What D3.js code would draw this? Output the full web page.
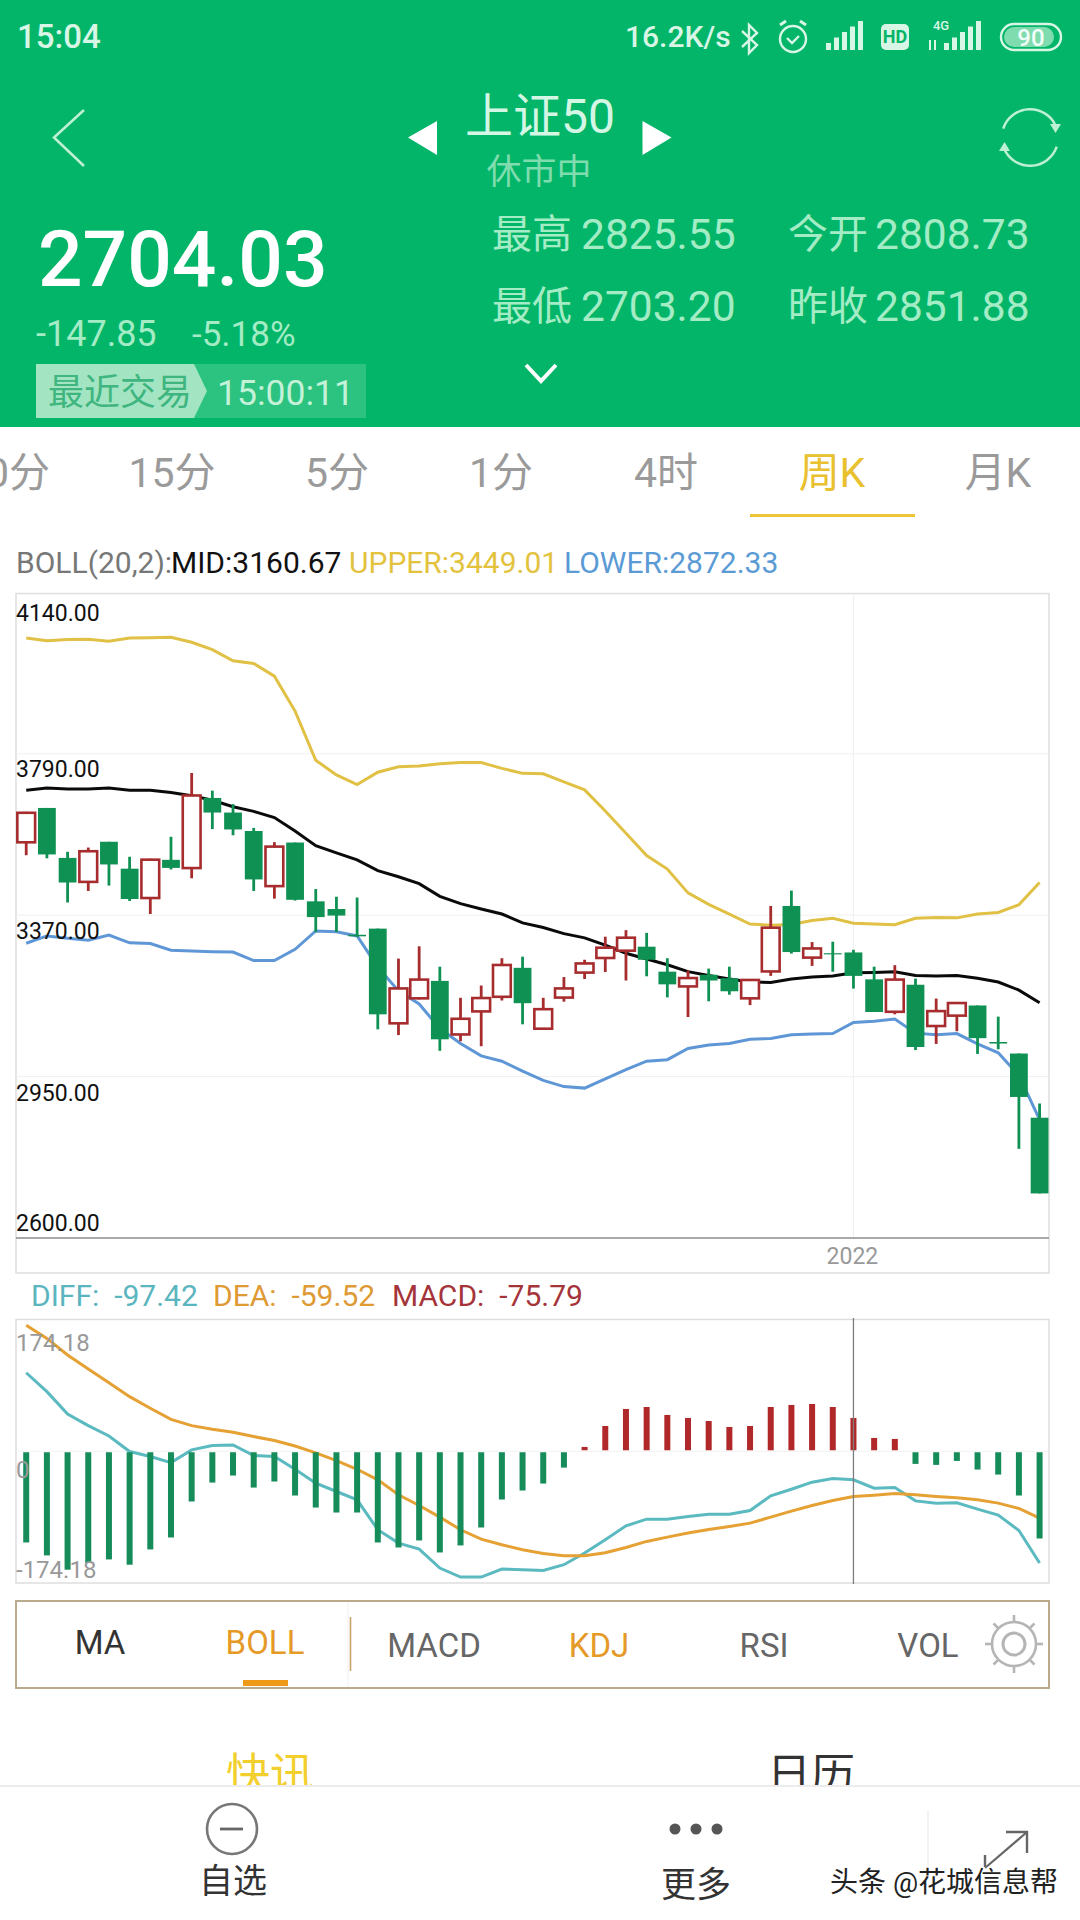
<!doctype html>
<html lang="zh">
  <head>
    <meta charset="utf-8">
    <title>上证50 周K</title>
    <style>
      html, body { margin: 0; background: #fff; }
      svg { display: block; }
      text { font-family: Roboto, "Noto Sans CJK SC", sans-serif; }
    </style>
  </head>
  <body>
    <script src="https://cdn.jsdelivr.net/npm/d3@7"></script>
    <script>

// weekly candles
var weeks = d3.range(50);
var yearTicks = [40];
var yearLabels = ["2022"];

var open = [3557,3649,3519,3454,3561,3491,3412,3514,3490,3675,3637,3589,3443,3559,3406,3386,3319,3335,3086,3151,
            3199,3057,3117,3155,3233,3072,3153,3218,3256,3275,3288,3223,3182,3215,3206,3151,3221,3394,3257,3271,
            3273,3203,3116,3189,3079,3106,3135,3040,3010,2843];
var high = [3639,3649,3535,3546,3561,3522,3517,3574,3740,3694,3659,3597,3560,3559,3438,3418,3416,3335,3257,3289,
            3236,3155,3187,3258,3262,3155,3209,3254,3314,3331,3324,3258,3226,3231,3236,3204,3394,3434,3300,3301,
            3280,3236,3240,3205,3153,3144,3135,3106,3010,2880];
var low  = [3526,3518,3403,3433,3447,3407,3373,3489,3466,3594,3578,3433,3413,3408,3326,3326,3314,3073,3058,3151,
            3017,3042,3029,3148,3086,3072,3145,3204,3222,3200,3211,3156,3105,3146,3163,3136,3212,3270,3238,3223,
            3179,3118,3112,3019,3035,3068,3009,3021,2762,2646];
var close = [3639,3528,3455,3539,3502,3412,3517,3493,3684,3637,3593,3463,3551,3410,3365,3369,3315,3112,3182,3205,
             3047,3103,3157,3243,3141,3128,3182,3247,3288,3314,3254,3190,3209,3200,3172,3204,3340,3274,3286,3268,
             3212,3118,3205,3027,3123,3144,3050,3036,2897,2646];

var bollUpper = [4091,4084,4087,4088,4083,4091,4092,4093,4080,4061,4032,4025,3992,3901,3773,3735,3710,3742,3756,3758,
                 3764,3767,3767,3752,3739,3738,3717,3696,3641,3583,3525,3490,3428,3398,3373,3347,3344,3346,3356,3362,
                 3349,3347,3345,3362,3364,3363,3373,3377,3397,3455];
var bollMid = [3695,3701,3698,3698,3701,3695,3695,3689,3681,3669,3652,3640,3624,3589,3551,3532,3514,3486,3470,3452,
               3419,3400,3386,3373,3350,3338,3322,3311,3292,3271,3256,3241,3223,3213,3204,3196,3195,3204,3209,3212,
               3220,3221,3223,3213,3212,3213,3206,3196,3175,3142];
var bollLower = [3297,3316,3310,3305,3318,3298,3296,3279,3277,3275,3274,3252,3252,3281,3329,3327,3316,3235,3173,3139,
                 3075,3036,3004,2990,2964,2940,2924,2920,2944,2968,2990,2994,3023,3032,3036,3047,3049,3059,3061,3062,
                 3091,3094,3100,3063,3059,3062,3035,3012,2953,2838];

var macdBars = [-120.6,-137.7,-156.6,-147.8,-143,-150,-129.8,-114,-66.4,-41.4,-32.1,-48,-40,-58.5,-74.4,-81,-81,-120.6,-127.2,-117.9,
                -133.8,-124.5,-100.8,-63.8,-51.9,-42.7,-21.6,5.7,33.4,55.9,58.5,48,44,40,32.1,33.4,58.5,61.2,62.5,58.5,
                44,17.6,16.3,-16.7,-18,-12.8,-24.2,-30.8,-58.5,-115.3];
var dea = [166.5,149.2,127.2,108.7,90.6,72.2,56.8,42.2,33.9,29,25.1,19.4,14.1,7,-2.2,-12.3,-23.8,-37.8,-57.6,-71.7,
           -87.1,-103.8,-116.2,-123.6,-130.2,-135.1,-138.2,-138.2,-134.2,-127.2,-119.2,-113.5,-108.2,-103.4,-99.4,-95,-87.1,-79.2,-71.7,-65.1,
           -59.8,-58.1,-55.9,-57.6,-59.8,-61.6,-64.2,-68.6,-75.7,-88.4];
var diff = [103.8,78.8,49.3,33.9,20.2,-0.4,-7,-15,1.8,7.5,8.4,-5.7,-7,-23.8,-42.2,-53.2,-64.2,-103.8,-121.4,-129.4,
            -154.4,-166.3,-166.3,-155.8,-156.6,-157.5,-150,-134.6,-117,-98.6,-89.8,-89.8,-86.2,-83.2,-83.2,-78.3,-59,-50.2,-40.9,-36.1,
            -37.8,-48.8,-48,-65.6,-68.6,-68.2,-76.6,-84.5,-104.7,-147.8];

var priceTicks = [4140, 3790, 3370, 2950, 2600];
var priceGrid = [3790, 3370, 2950];
var macdTicks = [174.18, 0, -174.18];
var crossWeek = 40;

var timeTabs = ["15分", "5分", "1分", "4时", "周K", "月K"];
var indicatorTabs = ["MA", "BOLL", "MACD", "KDJ", "RSI", "VOL"];

var RED = "#a62c2e", GREEN = "#0f9153", HEADER = "#03b568", PALE = "#a3ecc5";

var svg = d3.select("body").append("svg")
    .attr("width", 1080)
    .attr("height", 1920);

function label(parent, s, x, y, size, color, anchor, weight) {
  return parent.append("text")
      .attr("x", x).attr("y", y)
      .attr("dy", "0.36em")
      .attr("font-size", size)
      .attr("fill", color)
      .attr("text-anchor", anchor || "start")
      .attr("font-weight", weight || 400)
      .text(s);
}

function poly(parent, pts, stroke, width, fill) {
  return parent.append("path")
      .attr("d", d3.line()(pts))
      .attr("fill", fill || "none")
      .attr("stroke", stroke)
      .attr("stroke-width", width);
}

// ---------- header ----------
var head = svg.append("g");
head.append("rect").attr("width", 1080).attr("height", 427).attr("fill", HEADER);

label(head, "15:04", 17, 36, 33, "#d8f6e6", "start", 500);
label(head, "16.2K/s", 625, 36, 30, "#d8f6e6", "start", 500);

// bluetooth
poly(head, [[742,31],[757,45],[749,53],[749,25],[757,33],[742,47]], "#d8f6e6", 2.4);
// alarm
head.append("circle").attr("cx", 793).attr("cy", 39).attr("r", 13).attr("fill", "none").attr("stroke", "#d8f6e6").attr("stroke-width", 2.4);
poly(head, [[787,38],[792,43],[799,36]], "#d8f6e6", 2.4);
poly(head, [[780,25],[786,21]], "#d8f6e6", 3);
poly(head, [[806,25],[800,21]], "#d8f6e6", 3);

// signal bars, two groups
[826, 944].forEach(function(x0) {
  d3.range(5).forEach(function(i) {
    var h = 7 + i * 5.5;
    head.append("rect")
        .attr("x", x0 + i * 8).attr("y", 50 - h)
        .attr("width", 5).attr("height", h)
        .attr("fill", "#d8f6e6");
  });
});

head.append("rect").attr("x", 881).attr("y", 24).attr("width", 28).attr("height", 26).attr("rx", 5).attr("fill", "#d8f6e6");
label(head, "HD", 895, 37, 18, HEADER, "middle", 700);
label(head, "4G", 941, 25, 13, "#d8f6e6", "middle", 500);
poly(head, [[930,40],[930,50]], "#d8f6e6", 2);
poly(head, [[935,40],[935,50]], "#d8f6e6", 2);

head.append("rect").attr("x", 1001).attr("y", 24).attr("width", 60).attr("height", 26).attr("rx", 13)
    .attr("fill", "none").attr("stroke", "#d8f6e6").attr("stroke-width", 2.4);
head.append("rect").attr("x", 1004).attr("y", 27).attr("width", 50).attr("height", 20).attr("rx", 10).attr("fill", "#7fdcae");
label(head, "90", 1031, 37, 24, "#f2fff8", "middle", 500);

poly(head, [[84,110],[54,137.5],[84,166]], "#bdf0d4", 2.6);
poly(head, [[437,121],[408,137.5],[437,155]], "none", 0, "#fff");
poly(head, [[642.5,121],[671.5,137.5],[642.5,155]], "none", 0, "#fff");

label(head, "上证50", 540, 116, 48, "#d4f6e4", "middle");
label(head, "休市中", 539, 171, 35, "#7fdcae", "middle");

// refresh ring
var ring = d3.arc().innerRadius(27).outerRadius(29.5);
head.append("path").attr("transform", "translate(1030,137.5)").attr("fill", "#bdf0d4")
    .attr("d", ring({startAngle: -1.25, endAngle: 1.15}));
head.append("path").attr("transform", "translate(1030,137.5)").attr("fill", "#bdf0d4")
    .attr("d", ring({startAngle: 1.9, endAngle: 4.3}));
poly(head, [[1050,124],[1061,124],[1055.5,133]], "none", 0, "#bdf0d4");
poly(head, [[999,151],[1010,151],[1004.5,142]], "none", 0, "#bdf0d4");

label(head, "2704.03", 38, 258, 78.5, "#fff", "start", 500);
label(head, "-147.85", 36, 333, 36, PALE);
label(head, "-5.18%", 192, 333, 35, PALE);

head.append("rect").attr("x", 36).attr("y", 364).attr("width", 330).attr("height", 54).attr("fill", "#2cc280");
poly(head, [[36,364],[194,364],[207,391],[194,418],[36,418]], "none", 0, "#a3e5c3");
label(head, "最近交易", 48, 392, 36, "#3fb57f");
label(head, "15:00:11", 217, 392, 35.5, "#c4f2d8");

label(head, "最高", 492, 234, 40, PALE);
label(head, "2825.55", 581, 234, 42.5, PALE);
label(head, "今开", 788, 234, 40, PALE);
label(head, "2808.73", 875, 234, 42.5, PALE);
label(head, "最低", 492, 306, 40, PALE);
label(head, "2703.20", 581, 306, 42.5, PALE);
label(head, "昨收", 788, 306, 40, PALE);
label(head, "2851.88", 875, 306, 42.5, PALE);
poly(head, [[526,365],[541,381],[556,365]], "#fff", 4);

// ---------- period tabs ----------
var tabCenters = [172, 337, 501, 666, 832, 998];
label(svg, "30分", 50, 472, 41, "#9a9a9a", "end");
timeTabs.forEach(function(t, i) {
  label(svg, t, tabCenters[i], 472, 41, t == "周K" ? "#e9c02e" : "#9a9a9a", "middle");
});
svg.append("rect").attr("x", 750).attr("y", 514).attr("width", 165).attr("height", 3).attr("fill", "#eec537");

// ---------- BOLL legend ----------
label(svg, "BOLL(20,2):", 16, 562, 30, "#777");
label(svg, "MID:3160.67", 171, 562, 30, "#111");
label(svg, "UPPER:3449.01", 349, 562, 30, "#e3c23e");
label(svg, "LOWER:2872.33", 564, 562, 30, "#5b9bd5");

// ---------- price panel ----------
var x = d3.scaleBand()
    .domain(weeks)
    .range([14.43, 1051.37])
    .padding(0.14);

var y = d3.scaleLinear()
    .domain([2530, 4207])
    .range([1238, 593.5]);

var cx = function(i) { return x(i) + x.bandwidth() / 2; };

var price = svg.append("g");

price.append("rect").attr("x", 16).attr("y", 593.5).attr("width", 1033).attr("height", 679.5)
    .attr("fill", "#fff").attr("stroke", "#dcdcdc").attr("stroke-width", 1.4);

price.selectAll(".grid").data(priceGrid).enter().append("line")
    .attr("class", "grid")
    .attr("x1", 16).attr("x2", 1049)
    .attr("y1", function(d) { return y(d); })
    .attr("y2", function(d) { return y(d); })
    .attr("stroke", "#f0f0f0").attr("stroke-width", 1);

price.append("line")
    .attr("x1", cx(crossWeek)).attr("x2", cx(crossWeek))
    .attr("y1", 593.5).attr("y2", 1238)
    .attr("stroke", "#f0f0f0").attr("stroke-width", 1.2);

price.append("line").attr("x1", 16).attr("x2", 1049).attr("y1", 1238).attr("y2", 1238)
    .attr("stroke", "#8c8c8c").attr("stroke-width", 1.4);

var priceLine = d3.line()
    .x(function(d, i) { return cx(i); })
    .y(function(d) { return y(d); });

[[bollUpper, "#e0c145"], [bollMid, "#0a0a0a"], [bollLower, "#5f97d6"]].forEach(function(s) {
  price.append("path")
      .datum(s[0])
      .attr("d", priceLine)
      .attr("fill", "none")
      .attr("stroke", s[1])
      .attr("stroke-width", 3);
});

weeks.forEach(function(i) {
  var up = close[i] >= open[i];
  var color = up ? RED : GREEN;
  price.append("line")
      .attr("x1", cx(i)).attr("x2", cx(i))
      .attr("y1", y(high[i])).attr("y2", y(low[i]))
      .attr("stroke", color).attr("stroke-width", 2.8);
  var top = y(Math.max(open[i], close[i]));
  var bot = y(Math.min(open[i], close[i]));
  if (up) {
    price.append("rect")
        .attr("x", x(i)).attr("y", top + 1)
        .attr("width", x.bandwidth()).attr("height", bot - top - 2)
        .attr("fill", "#fff").attr("stroke", color).attr("stroke-width", 2.6);
  } else {
    price.append("rect")
        .attr("x", x(i)).attr("y", top)
        .attr("width", x.bandwidth()).attr("height", bot - top)
        .attr("fill", color);
  }
});

// tick labels sit under their line, the two outer ones are pulled inside the frame
var priceAxis = price.append("g")
    .attr("transform", "translate(16,0)")
    .call(d3.axisRight(y).tickValues(priceTicks).tickSize(0).tickPadding(0)
        .tickFormat(function(d) { return d.toFixed(2); }));
priceAxis.select(".domain").remove();
priceAxis.selectAll("text")
    .attr("font-size", 23)
    .attr("fill", "#111")
    .attr("dy", function(d) {
      if (d == 4140) return "0.04em";
      if (d == 2600) return "0.84em";
      if (d == 2950) return "1.06em";
      return "1.0em";
    });

var yearAxis = price.append("g")
    .attr("transform", "translate(0,1238)")
    .call(d3.axisBottom(x).tickValues(yearTicks).tickSize(0).tickPadding(10)
        .tickFormat(function(d, i) { return yearLabels[i]; }));
yearAxis.select(".domain").remove();
yearAxis.selectAll("text").attr("font-size", 23).attr("fill", "#999").attr("dx", -1);

// ---------- MACD panel ----------
label(svg, "DIFF:  -97.42", 31, 1295, 30, "#5bb5bf").style("white-space", "pre");
label(svg, "DEA:  -59.52", 213, 1295, 30, "#de9a35").style("white-space", "pre");
label(svg, "MACD:  -75.79", 392, 1295, 30, "#a5343a").style("white-space", "pre");

var ym = d3.scaleLinear()
    .domain([-174.18, 174.18])
    .range([1583, 1319.5]);

var macd = svg.append("g");

macd.append("rect").attr("x", 16).attr("y", 1319.5).attr("width", 1033).attr("height", 263.5)
    .attr("fill", "#fff").attr("stroke", "#dcdcdc").attr("stroke-width", 1.4);

macd.append("line").attr("x1", 16).attr("x2", 1049).attr("y1", ym(0)).attr("y2", ym(0))
    .attr("stroke", "#f2f2f2").attr("stroke-width", 1);

var macdLine = d3.line()
    .x(function(d, i) { return cx(i); })
    .y(function(d) { return ym(d); });

[[diff, "#5bb9c0"], [dea, "#e5a133"]].forEach(function(s) {
  macd.append("path")
      .datum(s[0])
      .attr("d", macdLine)
      .attr("fill", "none")
      .attr("stroke", s[1])
      .attr("stroke-width", 3);
});

macd.selectAll(".bar").data(macdBars).enter().append("rect")
    .attr("class", "bar")
    .attr("x", function(d, i) { return cx(i) - 3; })
    .attr("y", function(d) { return d > 0 ? ym(d) : ym(0) + 1; })
    .attr("width", 6)
    .attr("height", function(d) { return Math.abs(ym(d) - ym(0)) - 1; })
    .attr("fill", function(d) { return d > 0 ? "#b0282a" : "#158c59"; });

var macdAxis = macd.append("g")
    .attr("transform", "translate(16,0)")
    .call(d3.axisRight(ym).tickValues(macdTicks).tickSize(0).tickPadding(0)
        .tickFormat(function(d) { return d == 0 ? "0" : d.toFixed(2); }));
macdAxis.select(".domain").remove();
macdAxis.selectAll("text")
    .attr("font-size", 24)
    .attr("fill", "#999")
    .attr("dy", function(d) {
      if (d > 0) return "1.28em";
      if (d < 0) return "-0.25em";
      return "1.1em";
    });

macd.append("line")
    .attr("x1", cx(crossWeek)).attr("x2", cx(crossWeek))
    .attr("y1", 1318).attr("y2", 1584)
    .attr("stroke", "#7d7d7d").attr("stroke-width", 1.3);

// ---------- indicator tabs ----------
var tabs = svg.append("g");
tabs.append("rect").attr("x", 16).attr("y", 1601).attr("width", 1033).attr("height", 87)
    .attr("fill", "#fff").attr("stroke", "#b9aa8c").attr("stroke-width", 2);
tabs.append("line").attr("x1", 348).attr("x2", 348).attr("y1", 1602).attr("y2", 1687).attr("stroke", "#f1f1f1");
tabs.append("line").attr("x1", 350.5).attr("x2", 350.5).attr("y1", 1617).attr("y2", 1671).attr("stroke", "#c9a468").attr("stroke-width", 1.6);

var indicatorX = [100, 265, 434, 599, 764, 928];
var indicatorY = [1642, 1642, 1645, 1645, 1645, 1645];
var indicatorColor = ["#333", "#e59a28", "#666", "#e59a28", "#666", "#666"];
indicatorTabs.forEach(function(t, i) {
  label(tabs, t, indicatorX[i], indicatorY[i], 33, indicatorColor[i], "middle");
});
tabs.append("rect").attr("x", 243).attr("y", 1680).attr("width", 45).attr("height", 6).attr("fill", "#ef9a17");

// gear
var gear = tabs.append("g").attr("transform", "translate(1014,1644)")
    .attr("fill", "none").attr("stroke", "#b5b5b5");
gear.append("circle").attr("r", 22).attr("stroke-width", 2.6);
gear.append("circle").attr("r", 11).attr("stroke-width", 3);
d3.range(8).forEach(function(i) {
  var a = i * Math.PI / 4;
  gear.append("line")
      .attr("x1", 22 * Math.cos(a)).attr("y1", 22 * Math.sin(a))
      .attr("x2", 29 * Math.cos(a)).attr("y2", 29 * Math.sin(a))
      .attr("stroke-width", 2.6);
});

// ---------- news tabs, cut off by the bottom bar ----------
label(svg, "快讯", 270, 1774, 44, "#f2cf2d", "middle");
label(svg, "日历", 811, 1774, 44, "#333", "middle");

svg.append("rect").attr("x", 0).attr("y", 1786).attr("width", 1080).attr("height", 134).attr("fill", "#fff");
svg.append("line").attr("x1", 0).attr("x2", 1080).attr("y1", 1786).attr("y2", 1786)
    .attr("stroke", "#ececec").attr("stroke-width", 2);

// ---------- bottom bar ----------
var bar = svg.append("g");
bar.append("circle").attr("cx", 232).attr("cy", 1829).attr("r", 25)
    .attr("fill", "none").attr("stroke", "#777").attr("stroke-width", 2.6);
bar.append("line").attr("x1", 220).attr("x2", 243).attr("y1", 1829).attr("y2", 1829)
    .attr("stroke", "#666").attr("stroke-width", 2.8);
label(bar, "自选", 233, 1881, 34, "#333", "middle");

[675, 696, 717].forEach(function(cxDot) {
  bar.append("circle").attr("cx", cxDot).attr("cy", 1829).attr("r", 5.5).attr("fill", "#555");
});
label(bar, "更多", 696, 1884, 35, "#333", "middle");

bar.append("line").attr("x1", 928).attr("x2", 928).attr("y1", 1810).attr("y2", 1867).attr("stroke", "#eee").attr("stroke-width", 1.4);
poly(bar, [[985,1868],[1027,1832]], "#666", 2.2);
poly(bar, [[1006,1832],[1027,1832],[1027,1853]], "#666", 2.4);
poly(bar, [[985,1855],[985,1868]], "#666", 2.4);

label(bar, "头条 @花城信息帮", 830, 1882, 28, "#222")
    .attr("stroke", "#fff").attr("stroke-width", 3).attr("paint-order", "stroke");

    </script>
  </body>
</html>
